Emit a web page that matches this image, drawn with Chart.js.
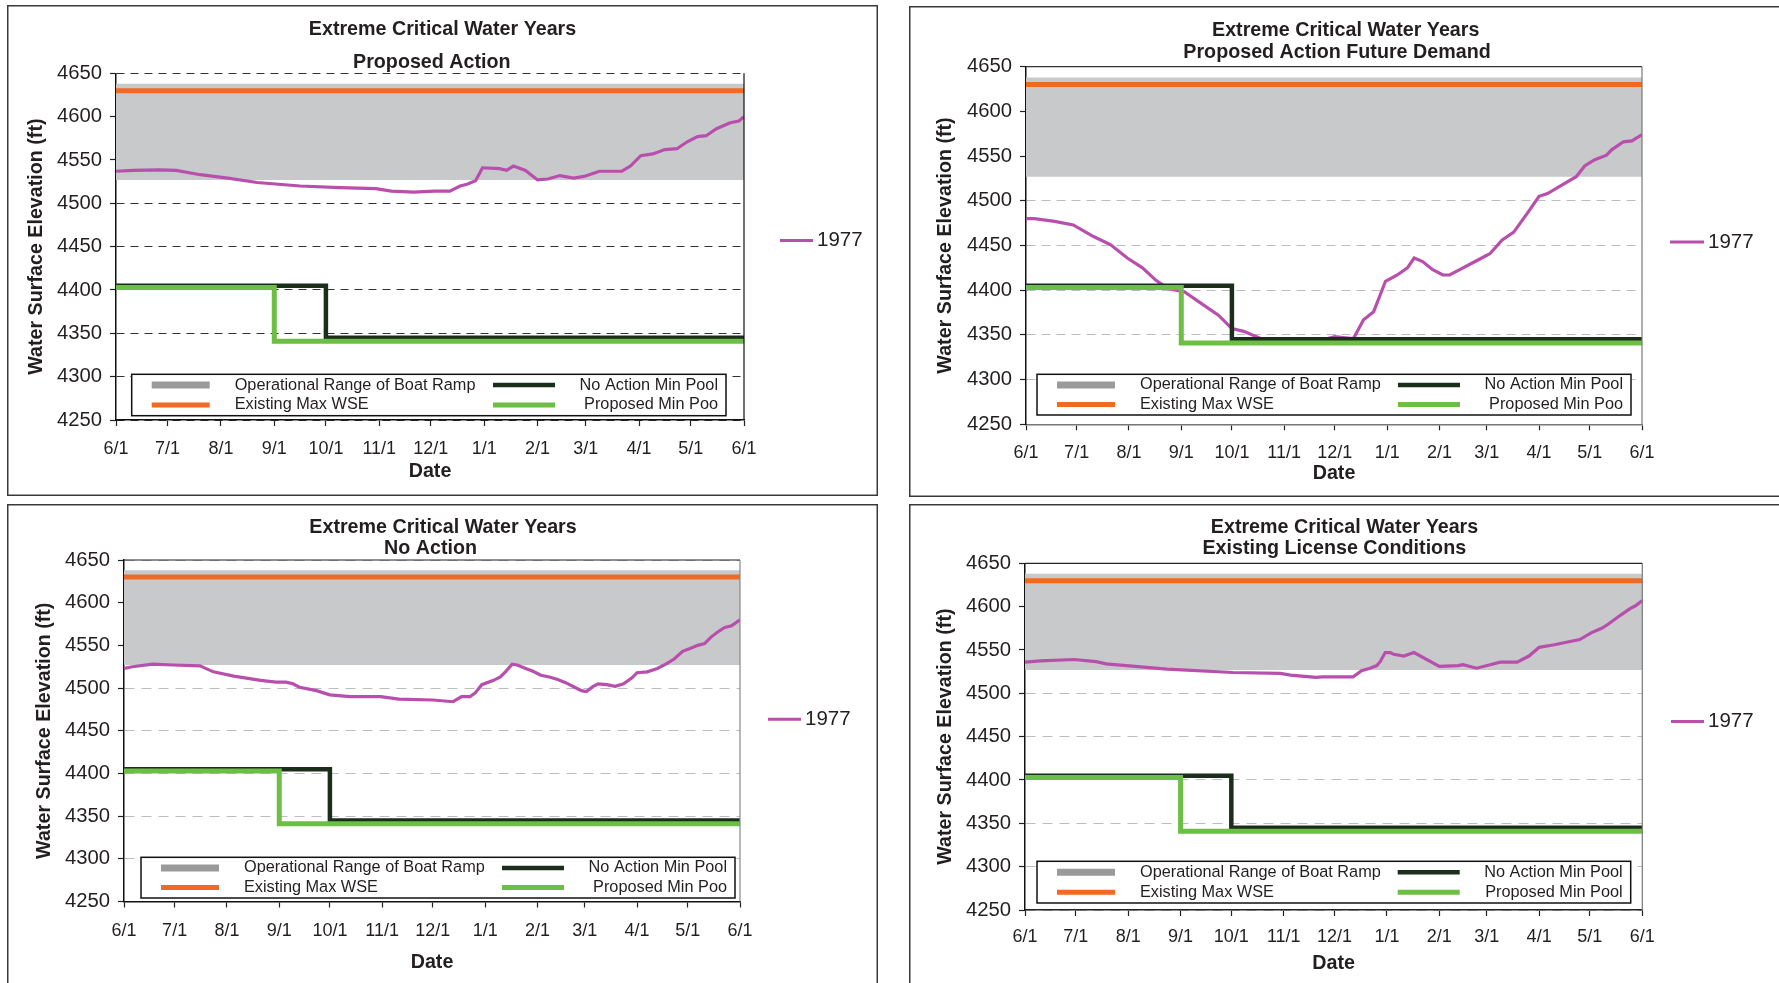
<!DOCTYPE html>
<html>
<head>
<meta charset="utf-8">
<script src="https://cdn.jsdelivr.net/npm/chart.js@4.4.1/dist/chart.umd.min.js"></script>
<style>
html, body { margin: 0; padding: 0; background: #fff; width: 1779px; height: 983px; overflow: hidden; }
canvas { position: absolute; }
</style>
</head>
<body>
<canvas id="pa"></canvas>
<canvas id="fd"></canvas>
<canvas id="na"></canvas>
<canvas id="el"></canvas>
<script>
// x axis: days after 6/1, ticks at the first of each month
var tickDays = [0, 30, 61, 92, 122, 153, 183, 214, 245, 273, 304, 334, 365];
var tickLabels = ['6/1', '7/1', '8/1', '9/1', '10/1', '11/1', '12/1', '1/1', '2/1', '3/1', '4/1', '5/1', '6/1'];
var elevMin = 4250, elevMax = 4650, elevStep = 50;

// reference levels (ft)
var rampRange = [4527, 4638];
var maxWse = 4630;
var noActionDays = [0, 122, 365];
var noActionPool = [4405, 4345, 4345];
var proposedDays = [0, 92, 365];
var proposedPool = [4403, 4341, 4341];

// 1977 water surface elevation
var paDays = [0, 10, 25, 35, 49, 65, 82, 107, 130, 151, 160, 173, 185, 194, 200, 204, 209, 213, 223, 227, 231, 238, 245, 251, 258, 266, 272, 281, 287, 294, 299, 305, 312, 319, 326, 332, 338, 343, 349, 357, 362, 365];
var paElev = [4537, 4538, 4538.5, 4538, 4533, 4529, 4524, 4520, 4518, 4517, 4514, 4513, 4514, 4514, 4520, 4522, 4526, 4541, 4540, 4538, 4543, 4538, 4527, 4528, 4532, 4529, 4531, 4537, 4537, 4537, 4543, 4555, 4557, 4562, 4563, 4571, 4577, 4578, 4586, 4593, 4595, 4600];

var fdDays = [0, 5, 17, 28, 40, 50, 60, 69, 77, 84, 94, 104, 114, 122, 129, 139, 154, 175, 183, 188, 194, 200, 206, 213, 220, 226, 230, 235, 241, 247, 251, 257, 265, 272, 275, 282, 289, 297, 304, 309, 318, 326, 331, 337, 344, 347, 354, 359, 365];
var fdElev = [4480, 4480, 4477, 4473, 4460, 4451, 4436, 4425, 4411, 4402, 4398, 4385, 4372, 4357, 4354, 4346, 4344, 4344, 4348, 4347, 4346, 4367, 4376, 4410, 4417, 4425, 4436, 4432, 4423, 4417, 4417, 4423, 4431, 4438, 4441, 4456, 4465, 4486, 4505, 4508, 4518, 4527, 4539, 4546, 4551, 4557, 4566, 4567, 4574];

var naDays = [0, 5, 17, 29, 45, 53, 65, 81, 90, 96, 100, 104, 114, 122, 134, 152, 163, 183, 195, 200, 205, 208, 212, 219, 223, 226, 230, 233, 238, 242, 247, 252, 257, 262, 267, 271, 274, 278, 281, 286, 291, 296, 301, 304, 310, 316, 321, 326, 331, 335, 340, 344, 348, 352, 356, 360, 365];
var naElev = [4523, 4525, 4528, 4527, 4526, 4519, 4514, 4509, 4507, 4507, 4505, 4501, 4497, 4492, 4490, 4490, 4487, 4486, 4484, 4490, 4490, 4494, 4504, 4509, 4513, 4519, 4528, 4527, 4523, 4520, 4515, 4513, 4510, 4506, 4501, 4497, 4496, 4502, 4505, 4504, 4502, 4505, 4512, 4518, 4519, 4523, 4528, 4534, 4543, 4546, 4550, 4552, 4560, 4566, 4571, 4573, 4580];

var elDays = [0, 9, 29, 42, 48, 84, 123, 151, 157, 172, 176, 194, 199, 204, 208, 210, 213, 216, 218, 224, 230, 245, 256, 259, 267, 275, 281, 291, 298, 304, 313, 323, 328, 335, 341, 345, 352, 358, 361, 365];
var elElev = [4536, 4537.5, 4539, 4536.5, 4534, 4528, 4524, 4523, 4521, 4518.5, 4519, 4519, 4526, 4529, 4532, 4536.5, 4547, 4547, 4545, 4543, 4547, 4531, 4532, 4533, 4529, 4533, 4536, 4536, 4543, 4553, 4556, 4560, 4562, 4570, 4575, 4580, 4590, 4598, 4601, 4607];

var FONT = '"Liberation Sans", Arial, sans-serif';
var TEXT = '#231f20';
var TITLE_SIZE = 19.7, XTICK_SIZE = 18, YTICK_SIZE = 20.3, LEGEND_SIZE = 16.3, KEY_SIZE = 20.5;
Chart.defaults.font.family = FONT;
Chart.defaults.color = TEXT;

// panel layout (page pixels)
var panels = [
  { id: 'pa', subtitle: 'Proposed Action', days: paDays, elev: paElev, minPoolLabel: 'Proposed Min Poo',
    box: [7, 5, 871, 491], area: [116, 73.3, 744, 420], titleY: [30, 62.7], titleX: [442.5, 431.8],
    yTitleX: 36.5, xTickY: 449, dateY: 472, legend: [131.7, 374.3, 726, 415.7], key: [780, 813, 817, 240.5],
    grid: '#333', dash: [8, 6], frameTop: null, frameRight: '#111', xAxis: '#111' },
  { id: 'fd', subtitle: 'Proposed Action Future Demand', days: fdDays, elev: fdElev, minPoolLabel: 'Proposed Min Poo',
    box: [909, 6, 873, 491], area: [1026, 66.7, 1642, 424.3], titleY: [30.7, 52.7], titleX: [1345.7, 1337],
    yTitleX: 945.5, xTickY: 453.3, dateY: 473.3, legend: [1037, 374.3, 1631, 415], key: [1670, 1704, 1708, 242],
    grid: '#bdbdbd', dash: [9, 6], frameTop: '#333', frameRight: '#777', xAxis: '#777' },
  { id: 'na', subtitle: 'No Action', days: naDays, elev: naElev, minPoolLabel: 'Proposed Min Poo',
    box: [7, 504, 871, 491], area: [124, 560, 740, 901.5], titleY: [527.7, 548.3], titleX: [443, 430.6],
    yTitleX: 45, xTickY: 930.7, dateY: 963, legend: [141, 857.3, 735, 898], key: [768, 801, 805, 719.3],
    grid: '#bdbdbd', dash: [10, 7], frameTop: '#222', frameRight: '#888', xAxis: '#111' },
  { id: 'el', subtitle: 'Existing License Conditions', days: elDays, elev: elElev, minPoolLabel: 'Proposed Min Pool',
    box: [909, 504, 873, 491], area: [1025, 563.3, 1642.3, 910], titleY: [527.7, 549], titleX: [1344.5, 1334.3],
    yTitleX: 945.8, xTickY: 937.3, dateY: 964, legend: [1037, 861.3, 1630.7, 903], key: [1671, 1704, 1708, 721.6],
    grid: '#bdbdbd', dash: [10, 7], frameTop: '#222', frameRight: '#777', xAxis: '#222' }
];

function pts(xs, ys) {
  return xs.map(function (x, i) { return { x: x, y: ys[i] }; });
}

var panelDecor = {
  id: 'panelDecor',
  beforeDraw: function (chart, args, p) {
    var ctx = chart.ctx;
    ctx.save();
    ctx.fillStyle = '#fff';
    ctx.fillRect(0, 0, chart.width, chart.height);
    ctx.strokeStyle = '#3a3a3a';
    ctx.lineWidth = 1.5;
    ctx.strokeRect(0.75, 0.75, chart.width - 1.5, chart.height - 1.5);
    ctx.restore();
  },
  afterDatasetsDraw: function (chart, args, p) {
    var ctx = chart.ctx, a = chart.chartArea;
    ctx.save();
    ctx.lineWidth = 1.2;
    if (p.frameTop) {
      ctx.strokeStyle = p.frameTop;
      ctx.beginPath(); ctx.moveTo(a.left, a.top); ctx.lineTo(a.right, a.top); ctx.stroke();
    }
    ctx.strokeStyle = p.frameRight;
    ctx.beginPath(); ctx.moveTo(a.right, a.top); ctx.lineTo(a.right, a.bottom); ctx.stroke();
    ctx.restore();
  },
  afterDraw: function (chart, args, p) {
    var ctx = chart.ctx, bx = p.box[0], by = p.box[1];
    var ds = chart.data.datasets;
    ctx.save();
    // titles
    ctx.fillStyle = TEXT;
    ctx.font = 'bold ' + TITLE_SIZE + 'px ' + FONT;
    ctx.textAlign = 'center';
    ctx.textBaseline = 'middle';
    ctx.fillText('Extreme Critical Water Years', p.titleX[0] - bx, p.titleY[0] - by);
    ctx.fillText(p.subtitle, p.titleX[1] - bx, p.titleY[1] - by);

    // boxed legend inside the plot
    var l = p.legend[0] - bx, t = p.legend[1] - by, r = p.legend[2] - bx, b = p.legend[3] - by;
    var h = b - t;
    ctx.fillStyle = '#fff';
    ctx.fillRect(l, t, r - l, h);
    ctx.strokeStyle = '#111';
    ctx.lineWidth = 1.5;
    ctx.strokeRect(l, t, r - l, h);
    var rows = [t + 0.26 * h, t + 0.74 * h];
    var find = function (lbl) { return ds.filter(function (d) { return d.label === lbl; })[0]; };
    var left = [find('Operational Range of Boat Ramp'), find('Existing Max WSE')];
    var right = [find('No Action Min Pool'), find(p.minPoolLabel)];
    ctx.font = LEGEND_SIZE + 'px ' + FONT;
    ctx.textBaseline = 'middle';
    left.forEach(function (d, i) {
      ctx.strokeStyle = d.legendColor || d.borderColor;
      ctx.lineWidth = d.legendWidth || d.borderWidth;
      ctx.beginPath(); ctx.moveTo(l + 20, rows[i]); ctx.lineTo(l + 78, rows[i]); ctx.stroke();
      ctx.fillStyle = TEXT;
      ctx.textAlign = 'left';
      ctx.fillText(d.label, l + 103, rows[i]);
    });
    right.forEach(function (d, i) {
      ctx.strokeStyle = d.borderColor;
      ctx.lineWidth = d.borderWidth;
      ctx.beginPath(); ctx.moveTo(r - 233, rows[i]); ctx.lineTo(r - 171, rows[i]); ctx.stroke();
      ctx.fillStyle = TEXT;
      ctx.textAlign = 'right';
      ctx.fillText(d.label, r - 8, rows[i]);
    });

    // series key at the right
    var yr = find('1977');
    var ky = p.key[3] - by;
    ctx.strokeStyle = yr.borderColor;
    ctx.lineWidth = 3;
    ctx.beginPath(); ctx.moveTo(p.key[0] - bx, ky); ctx.lineTo(p.key[1] - bx, ky); ctx.stroke();
    ctx.fillStyle = TEXT;
    ctx.font = KEY_SIZE + 'px ' + FONT;
    ctx.textAlign = 'left';
    ctx.fillText(yr.label, p.key[2] - bx, ky);
    ctx.restore();
  }
};

function makeChart(p) {
  var bx = p.box[0], by = p.box[1], bw = p.box[2], bh = p.box[3];
  var al = p.area[0], at = p.area[1], ar = p.area[2], ab = p.area[3];
  var P = 10;
  var tickLh = XTICK_SIZE * 1.2, titleLh = TITLE_SIZE * 1.2;
  var canvas = document.getElementById(p.id);
  canvas.width = bw; canvas.height = bh;
  canvas.style.left = bx + 'px'; canvas.style.top = by + 'px';
  canvas.style.width = bw + 'px'; canvas.style.height = bh + 'px';
  var first = tickDays[0], last = tickDays[tickDays.length - 1];

  new Chart(canvas, {
    type: 'line',
    data: {
      datasets: [
        { label: p.minPoolLabel, data: pts(proposedDays, proposedPool), stepped: true,
          borderColor: '#6dbe45', borderWidth: 5 },
        { label: 'No Action Min Pool', data: pts(noActionDays, noActionPool), stepped: true,
          borderColor: '#1b2e1b', borderWidth: 4.5 },
        { label: '1977', data: pts(p.days, p.elev), borderColor: '#b84fac', borderWidth: 3.2 },
        { label: 'Existing Max WSE', data: pts([first, last], [maxWse, maxWse]),
          borderColor: '#f06a22', borderWidth: 5 },
        { label: 'Operational Range of Boat Ramp', data: pts([first, last], [rampRange[1], rampRange[1]]),
          fill: { value: rampRange[0] }, backgroundColor: '#c8c9cb', borderColor: 'rgba(0,0,0,0)',
          borderWidth: 1, legendColor: '#9a9a9a', legendWidth: 7 }
      ]
    },
    options: {
      responsive: false,
      animation: false,
      layout: { padding: { left: P, top: at - by, right: bx + bw - ar, bottom: P } },
      elements: { point: { radius: 0 }, line: { tension: 0 } },
      plugins: { legend: { display: false }, tooltip: { enabled: false }, panelDecor: p },
      scales: {
        x: {
          type: 'linear', min: first, max: last,
          afterBuildTicks: function (s) { s.ticks = tickDays.map(function (v) { return { value: v }; }); },
          afterFit: function (s) { s.height = bh - P - (ab - by); },
          ticks: {
            autoSkip: false, maxRotation: 0, minRotation: 0,
            padding: p.xTickY - ab - 6 - tickLh / 2,
            font: { size: XTICK_SIZE }, color: TEXT,
            callback: function (v, i) { return tickLabels[i]; }
          },
          grid: { drawOnChartArea: false, drawTicks: true, tickLength: 6, tickColor: '#222', tickWidth: 1.2 },
          border: { color: p.xAxis, width: 1.5 },
          title: { display: true, text: 'Date', color: TEXT, font: { size: TITLE_SIZE, weight: 'bold' },
            padding: { top: 0, bottom: (bh - P) - (p.dateY - by) - titleLh / 2 } }
        },
        y: {
          min: elevMin, max: elevMax,
          afterFit: function (s) { s.width = al - bx - P; },
          ticks: { stepSize: elevStep, padding: 8, font: { size: YTICK_SIZE }, color: TEXT,
            callback: function (v) { return String(v); } },
          grid: { color: p.grid, lineWidth: 1, tickLength: 6, tickColor: '#222', tickWidth: 1.2, tickBorderDash: [] },
          border: { color: '#111', width: 1.5, dash: p.dash },
          title: { display: true, text: 'Water Surface Elevation (ft)', color: TEXT, font: { size: TITLE_SIZE, weight: 'bold' },
            padding: { top: p.yTitleX - bx - P - titleLh / 2, bottom: 0 } }
        }
      }
    },
    plugins: [panelDecor]
  });
}

panels.forEach(makeChart);
</script>
</body>
</html>
